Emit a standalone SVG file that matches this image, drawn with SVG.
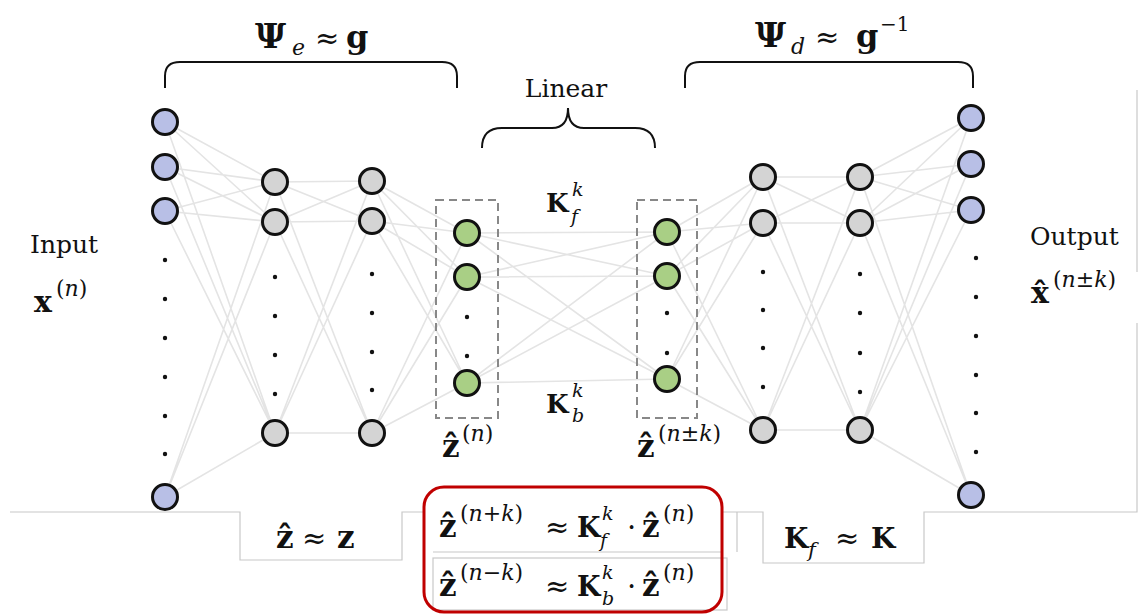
<svg xmlns="http://www.w3.org/2000/svg" width="1140" height="615" viewBox="0 0 1140 615">
<style>
.t{font-family:"DejaVu Serif","Liberation Serif",serif;fill:#111}
.b{font-weight:bold}
.i{font-style:italic;font-weight:normal}
.r{font-weight:normal;font-style:normal}
.nb{fill:#b8bfe6;stroke:#111;stroke-width:3}
.ng{fill:#d4d4d4;stroke:#111;stroke-width:3}
.nl{fill:#a9cf85;stroke:#111;stroke-width:3}
.dot{fill:#111}
.c{stroke:#e4e4e4;stroke-width:1.6;fill:none}
.br{stroke:#111;stroke-width:2;fill:none}
.dash{stroke:#888;stroke-width:2;stroke-dasharray:8 5;fill:none}
.edge{stroke:#c8c8c8;stroke-width:1.2;fill:none}
</style>
<rect width="1140" height="615" fill="#fff"/>

<!-- screenshot frame lines -->
<g id="frames">
<path class="edge" d="M10,512 H240 V560 H402 V512 H424"/>
<path class="edge" d="M433,552 H722"/>
<rect class="edge" x="433" y="558" width="294" height="52"/>
<path class="edge" d="M722,512 H737 V552 M737,512 H763 V563 H924 V512 H1137 V323 M1137,272 V90"/>
</g>

<g id="connectors">
<path class="c" d="M165,122 L275,182 M165,122 L275,222 M165,122 L275,433 M165,167 L275,182 M165,167 L275,222 M165,167 L275,433 M165,211 L275,182 M165,211 L275,222 M165,211 L275,433 M165,497 L275,182 M165,497 L275,222 M165,497 L275,433"/>
<path class="c" d="M275,182 L372,181 M275,182 L372,221 M275,182 L372,433 M275,222 L372,181 M275,222 L372,221 M275,222 L372,433 M275,433 L372,181 M275,433 L372,221 M275,433 L372,433"/>
<path class="c" d="M372,181 L467,233 M372,181 L467,277 M372,181 L467,383 M372,221 L467,233 M372,221 L467,277 M372,221 L467,383 M372,433 L467,233 M372,433 L467,277 M372,433 L467,383"/>
<path class="c" d="M467,233 L667,232 M467,233 L667,276 M467,233 L667,379 M467,277 L667,232 M467,277 L667,276 M467,277 L667,379 M467,383 L667,232 M467,383 L667,276 M467,383 L667,379"/>
<path class="c" d="M667,232 L763,177 M667,232 L763,223 M667,232 L763,430 M667,276 L763,177 M667,276 L763,223 M667,276 L763,430 M667,379 L763,177 M667,379 L763,223 M667,379 L763,430"/>
<path class="c" d="M763,177 L860,177 M763,177 L860,223 M763,177 L860,430 M763,223 L860,177 M763,223 L860,223 M763,223 L860,430 M763,430 L860,177 M763,430 L860,223 M763,430 L860,430"/>
<path class="c" d="M860,177 L971,118 M860,177 L971,164 M860,177 L971,210 M860,177 L971,495 M860,223 L971,118 M860,223 L971,164 M860,223 L971,210 M860,223 L971,495 M860,430 L971,118 M860,430 L971,164 M860,430 L971,210 M860,430 L971,495"/>
</g>

<g id="brace-encoder">
<path class="br" d="M165,88 V76 Q165,62 180,62 H442 Q457,62 457,76 V88"/>
<text class="t"><tspan class="b" x="255" y="48" font-size="34">Ψ</tspan><tspan class="i" x="292" y="55" font-size="22">e</tspan><tspan class="r" x="315" y="48" font-size="29">≈</tspan><tspan class="b" x="346" y="48" font-size="32">g</tspan></text>
</g>
<g id="brace-decoder">
<path class="br" d="M685,88 V76 Q685,62 700,62 H958 Q973,62 973,76 V88"/>
<text class="t"><tspan class="b" x="755" y="47" font-size="34">Ψ</tspan><tspan class="i" x="791" y="54" font-size="22">d</tspan><tspan class="r" x="815" y="47" font-size="29">≈</tspan><tspan class="b" x="856" y="47" font-size="32">g</tspan><tspan class="r" x="880" y="31" font-size="20">−1</tspan></text>
</g>
<g id="brace-linear">
<path class="br" d="M482,148 Q482,128 502,128 H552 Q568,128 568,108 Q568,128 584,128 H635 Q655,128 655,148"/>
<text class="t" x="566" y="97" font-size="25" text-anchor="middle">Linear</text>
</g>

<g id="input-layer">
<circle class="nb" cx="165" cy="122" r="12.5"/>
<circle class="nb" cx="165" cy="167" r="12.5"/>
<circle class="nb" cx="165" cy="211" r="12.5"/>
<circle class="dot" cx="165" cy="260" r="2.2"/>
<circle class="dot" cx="165" cy="299" r="2.2"/>
<circle class="dot" cx="165" cy="338" r="2.2"/>
<circle class="dot" cx="165" cy="377" r="2.2"/>
<circle class="dot" cx="165" cy="416" r="2.2"/>
<circle class="dot" cx="165" cy="454" r="2.2"/>
<circle class="nb" cx="165" cy="497" r="12.5"/>
</g>
<g id="hidden-1">
<circle class="ng" cx="275" cy="182" r="12.5"/>
<circle class="ng" cx="275" cy="222" r="12.5"/>
<circle class="dot" cx="275" cy="277" r="2.2"/>
<circle class="dot" cx="275" cy="316" r="2.2"/>
<circle class="dot" cx="275" cy="355" r="2.2"/>
<circle class="dot" cx="275" cy="394" r="2.2"/>
<circle class="ng" cx="275" cy="433" r="12.5"/>
</g>
<g id="hidden-2">
<circle class="ng" cx="372" cy="181" r="12.5"/>
<circle class="ng" cx="372" cy="221" r="12.5"/>
<circle class="dot" cx="372" cy="274" r="2.2"/>
<circle class="dot" cx="372" cy="313" r="2.2"/>
<circle class="dot" cx="372" cy="352" r="2.2"/>
<circle class="dot" cx="372" cy="390" r="2.2"/>
<circle class="ng" cx="372" cy="433" r="12.5"/>
</g>
<g id="latent-n">
<rect class="dash" x="436" y="200" width="62" height="218"/>
<circle class="nl" cx="467" cy="233" r="12.5"/>
<circle class="nl" cx="467" cy="277" r="12.5"/>
<circle class="dot" cx="467" cy="317" r="2.2"/>
<circle class="dot" cx="467" cy="356" r="2.2"/>
<circle class="nl" cx="467" cy="383" r="12.5"/>
<text class="t"><tspan class="b" x="442" y="457" font-size="31">ẑ</tspan><tspan class="r" x="462" y="441" font-size="22">(</tspan><tspan class="i" font-size="22">n</tspan><tspan class="r" font-size="22">)</tspan></text>
</g>
<g id="latent-nk">
<rect class="dash" x="637" y="200" width="60" height="218"/>
<circle class="nl" cx="667" cy="232" r="12.5"/>
<circle class="nl" cx="667" cy="276" r="12.5"/>
<circle class="dot" cx="667" cy="313" r="2.2"/>
<circle class="dot" cx="667" cy="353" r="2.2"/>
<circle class="nl" cx="667" cy="379" r="12.5"/>
<text class="t"><tspan class="b" x="637" y="457" font-size="31">ẑ</tspan><tspan class="r" x="658" y="441" font-size="22">(</tspan><tspan class="i" font-size="22">n</tspan><tspan class="r" font-size="22">±</tspan><tspan class="i" font-size="22">k</tspan><tspan class="r" font-size="22">)</tspan></text>
</g>
<g id="label-kf">
<text class="t"><tspan class="b" x="546" y="212" font-size="26">K</tspan><tspan class="i" x="572" y="196" font-size="19">k</tspan><tspan class="i" x="571" y="223" font-size="19">f</tspan></text>
</g>
<g id="label-kb">
<text class="t"><tspan class="b" x="546" y="413" font-size="26">K</tspan><tspan class="i" x="572" y="397" font-size="19">k</tspan><tspan class="i" x="572" y="422" font-size="19">b</tspan></text>
</g>
<g id="decoder-1">
<circle class="ng" cx="763" cy="177" r="12.5"/>
<circle class="ng" cx="763" cy="223" r="12.5"/>
<circle class="dot" cx="763" cy="272" r="2.2"/>
<circle class="dot" cx="763" cy="310" r="2.2"/>
<circle class="dot" cx="763" cy="348" r="2.2"/>
<circle class="dot" cx="763" cy="387" r="2.2"/>
<circle class="ng" cx="763" cy="430" r="12.5"/>
</g>
<g id="decoder-2">
<circle class="ng" cx="860" cy="177" r="12.5"/>
<circle class="ng" cx="860" cy="223" r="12.5"/>
<circle class="dot" cx="860" cy="274" r="2.2"/>
<circle class="dot" cx="860" cy="313" r="2.2"/>
<circle class="dot" cx="860" cy="353" r="2.2"/>
<circle class="dot" cx="860" cy="392" r="2.2"/>
<circle class="ng" cx="860" cy="430" r="12.5"/>
</g>
<g id="output-layer">
<circle class="nb" cx="971" cy="118" r="12.5"/>
<circle class="nb" cx="971" cy="164" r="12.5"/>
<circle class="nb" cx="971" cy="210" r="12.5"/>
<circle class="dot" cx="976" cy="258" r="2.2"/>
<circle class="dot" cx="976" cy="297" r="2.2"/>
<circle class="dot" cx="976" cy="336" r="2.2"/>
<circle class="dot" cx="976" cy="375" r="2.2"/>
<circle class="dot" cx="976" cy="413" r="2.2"/>
<circle class="dot" cx="976" cy="452" r="2.2"/>
<circle class="nb" cx="971" cy="495" r="12.5"/>
</g>

<g id="input-label">
<text class="t" x="30" y="253" font-size="25">Input</text>
<text class="t"><tspan class="b" x="34" y="312" font-size="30">x</tspan><tspan class="r" x="56" y="296" font-size="22">(</tspan><tspan class="i" font-size="22">n</tspan><tspan class="r" font-size="22">)</tspan></text>
</g>
<g id="output-label">
<text class="t" x="1030" y="245" font-size="25">Output</text>
<text class="t"><tspan class="b" x="1031" y="303" font-size="30">x̂</tspan><tspan class="r" x="1053" y="287" font-size="22">(</tspan><tspan class="i" font-size="22">n</tspan><tspan class="r" font-size="22">±</tspan><tspan class="i" font-size="22">k</tspan><tspan class="r" font-size="22">)</tspan></text>
</g>

<g id="eq-zz">
<text class="t"><tspan class="b" x="276" y="548" font-size="31">ẑ</tspan><tspan class="r" x="302" y="548" font-size="29">≈</tspan><tspan class="b" x="337" y="548" font-size="31">z</tspan></text>
</g>
<g id="eq-kfk">
<text class="t"><tspan class="b" x="784" y="548" font-size="28">K</tspan><tspan class="i" x="808" y="557" font-size="21">f</tspan><tspan class="r" x="835" y="548" font-size="29">≈</tspan><tspan class="b" x="871" y="548" font-size="28">K</tspan></text>
</g>
<g id="eq-box">
<rect x="424" y="487" width="298" height="125" rx="20" fill="none" stroke="#c00000" stroke-width="3"/>
<text class="t"><tspan class="b" x="439" y="537" font-size="31">ẑ</tspan><tspan class="r" x="460" y="521" font-size="22">(</tspan><tspan class="i" font-size="22">n</tspan><tspan class="r" font-size="22">+</tspan><tspan class="i" font-size="22">k</tspan><tspan class="r" font-size="22">)</tspan><tspan class="r" x="545" y="537" font-size="29">≈</tspan><tspan class="b" x="577" y="537" font-size="27">K</tspan><tspan class="i" x="602" y="520" font-size="19">k</tspan><tspan class="i" x="600" y="547" font-size="19">f</tspan><tspan class="r" x="627" y="537" font-size="29">·</tspan><tspan class="b" x="642" y="537" font-size="31">ẑ</tspan><tspan class="r" x="663" y="521" font-size="22">(</tspan><tspan class="i" font-size="22">n</tspan><tspan class="r" font-size="22">)</tspan></text>
<text class="t"><tspan class="b" x="439" y="596" font-size="31">ẑ</tspan><tspan class="r" x="460" y="580" font-size="22">(</tspan><tspan class="i" font-size="22">n</tspan><tspan class="r" font-size="22">−</tspan><tspan class="i" font-size="22">k</tspan><tspan class="r" font-size="22">)</tspan><tspan class="r" x="545" y="596" font-size="29">≈</tspan><tspan class="b" x="577" y="596" font-size="27">K</tspan><tspan class="i" x="602" y="579" font-size="19">k</tspan><tspan class="i" x="602" y="605" font-size="19">b</tspan><tspan class="r" x="627" y="596" font-size="29">·</tspan><tspan class="b" x="642" y="596" font-size="31">ẑ</tspan><tspan class="r" x="663" y="580" font-size="22">(</tspan><tspan class="i" font-size="22">n</tspan><tspan class="r" font-size="22">)</tspan></text>
</g>
</svg>
